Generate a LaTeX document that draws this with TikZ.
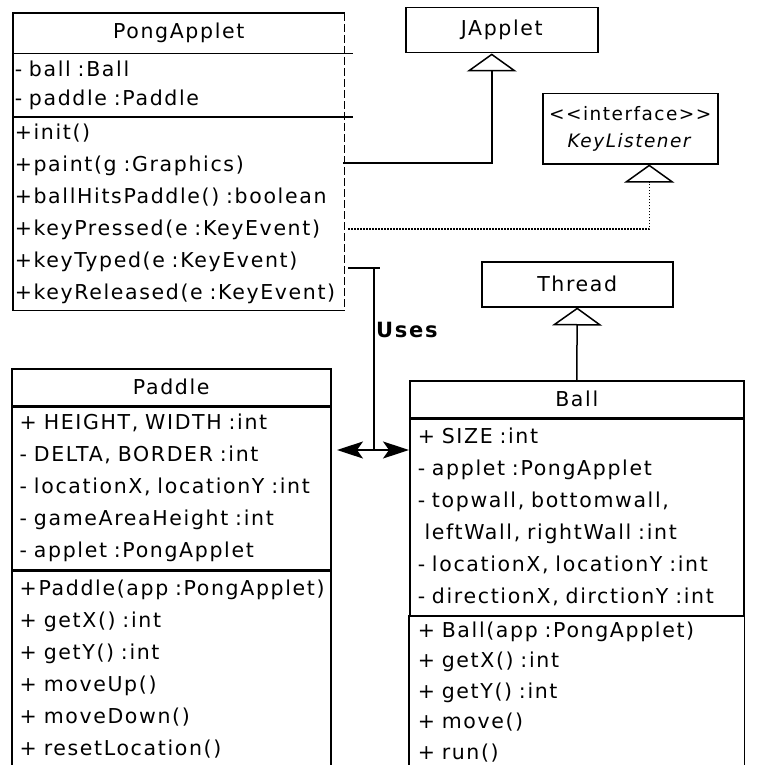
\documentclass[tikz,border=0pt]{standalone}
\usepackage{fontspec}
\setmainfont{DejaVu Sans}[LetterSpace=8]
\usetikzlibrary{arrows.meta, positioning, calc}

\begin{document}
\begin{tikzpicture}[x=1pt, y=-1pt,
  umlbox/.style={draw, line width=1.5pt, inner sep=0pt, anchor=north west},
  classname/.style={umlbox, font=\fontsize{20.5}{24}\selectfont, align=center},
  members/.style={umlbox, font=\fontsize{20.5}{32}\selectfont, align=left, inner xsep=8pt},
  inherit/.style={line width=1.5pt, -{Triangle[open, length=18pt, width=50pt]}},
  realize/.style={inherit, dash pattern=on 1.5pt off 1.5pt},
  uses/.style={line width=1.5pt,
               {Stealth[length=26pt, width=17pt, inset=6pt]}-{Stealth[length=26pt, width=17pt, inset=6pt]}}
]
\useasboundingbox (0,0) rectangle (756,765);
\clip (0,0) rectangle (756,765);

% PongApplet (right side drawn by hand, dashed)
\node[classname, draw=none, minimum width=330pt, minimum height=39pt] (pong) at (13,13) {PongApplet};
\node[members, draw=none, inner xsep=1pt, text width=328pt, minimum height=62pt,
      font=\fontsize{20.5}{29}\selectfont] (pong-attr) at (pong.south west)
  {- ball :Ball\\- paddle :Paddle};
\node[members, draw=none, inner xsep=1pt, text width=328pt, minimum height=192pt] (pong-ops) at (pong-attr.south west)
  {+init()\\+paint(g :Graphics)\\+ballHitsPaddle() :boolean\\+keyPressed(e :KeyEvent)\\+keyTyped(e :KeyEvent)\\+keyReleased(e :KeyEvent)};
\draw[line width=1.5pt] (pong.north east) -- (pong.north west) -- (pong-ops.south west) -- (pong-ops.south east);
\draw[line width=1.8pt, dash pattern=on 8pt off 3pt] (pong.north east) -- (pong-ops.south east);
\draw[line width=1.5pt] (pong.south west) -- ([xshift=8pt]pong.south east);
\draw[line width=1.5pt] (pong-attr.south west) -- ([xshift=8pt]pong-attr.south east);

% superclasses
\node[classname, minimum width=192pt, minimum height=45pt] (japplet) at (405,7) {JApplet};
\node[classname, minimum width=175pt, minimum height=70pt, font=\fontsize{18.5}{27}\selectfont] (keylistener) at (542,93)
  {<{}<interface>{}>\\\textit{KeyListener}};
\node[classname, minimum width=191pt, minimum height=45pt] (thread) at (481,261) {Thread};

% Paddle
\node[classname, minimum width=319pt, minimum height=37pt] (paddle) at (11,368) {Paddle};
\node[members, text width=303pt, minimum height=162pt] (paddle-attr) at (paddle.south west)
  {+ HEIGHT, WIDTH :int\\- DELTA, BORDER :int\\- locationX, locationY :int\\- gameAreaHeight :int\\- applet :PongApplet};
\node[members, text width=303pt, minimum height=196pt] (paddle-ops) at (paddle-attr.south west)
  {+Paddle(app :PongApplet)\\+ getX() :int\\+ getY() :int\\+ moveUp()\\+ moveDown()\\+ resetLocation()};

% Ball (runs off the bottom edge)
\node[classname, minimum width=334pt, minimum height=37pt] (ball) at (409,380) {Ball};
\node[members, text width=318pt, minimum height=196pt] (ball-attr) at (ball.south west)
  {+ SIZE :int\\- applet :PongApplet\\- topwall, bottomwall,\\\ leftWall, rightWall :int\\- locationX, locationY :int\\- directionX, dirctionY :int};
\node[members, draw=none, text width=318pt, minimum height=150pt,
      font=\fontsize{20.5}{30.5}\selectfont] (ball-ops) at (ball-attr.south west)
  {+ Ball(app :PongApplet)\\+ getX() :int\\+ getY() :int\\+ move()\\+ run()};
\draw[line width=1.5pt] ([yshift=-10pt]ball-ops.south west) -- (ball-ops.north west)
  -- (ball-ops.north east) -- ([yshift=-10pt]ball-ops.south east);

% connectors
\coordinate (paintrow) at (343,163);
\coordinate (keyrow) at (348,229);
\draw[inherit] (paintrow) -| ([xshift=-10pt]japplet.south);
\draw[realize] (keyrow) -| ([xshift=19pt]keylistener.south);
\draw[inherit] (ball.north) -- (thread.south);

\coordinate (usestick) at (374,268);
\coordinate (usesleft) at (337,450);
\draw[line width=1.5pt] ([xshift=-26pt]usestick) -- ([xshift=6pt]usestick);
\draw[line width=1.5pt] (usestick) -- (usestick |- usesleft);
\draw[uses] (usesleft) -- (ball-attr.west |- usesleft);
\node[anchor=west, inner sep=0pt, font=\fontsize{21}{24}\selectfont\bfseries] (useslabel) at (376,330) {Uses};
\end{tikzpicture}
\end{document}
